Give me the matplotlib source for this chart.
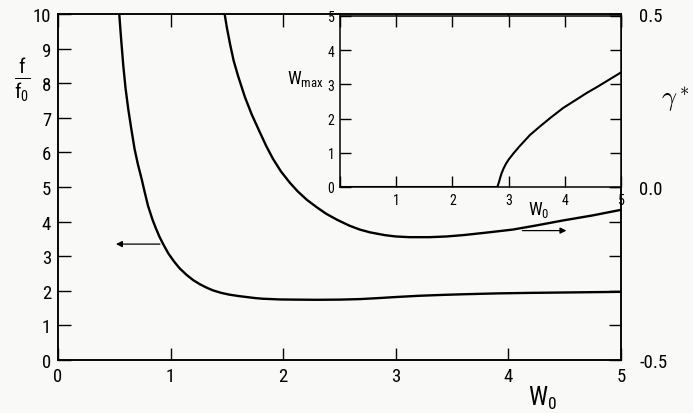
import matplotlib
matplotlib.use('Agg')
import matplotlib.pyplot as plt
from matplotlib import font_manager

# ---------------- font: narrow sans like the scanned book figure ----------------
names = {f.name for f in font_manager.fontManager.ttflist}
fam = 'DejaVu Sans'
for cand in ['Liberation Sans Narrow', 'Roboto Condensed', 'Roboto']:
    if cand in names:
        fam = cand
        break
plt.rcParams['font.family'] = [fam, 'DejaVu Sans']
plt.rcParams['mathtext.fontset'] = 'custom'
plt.rcParams['mathtext.rm'] = fam
plt.rcParams['mathtext.it'] = fam
plt.rcParams['mathtext.bf'] = fam

# ---------------- data ----------------
# f/f0 against W0 (left axis)
w_f = [0.544, 0.56, 0.58, 0.60, 0.624, 0.65, 0.68, 0.71, 0.743, 0.77, 0.80,
       0.84, 0.87, 0.90, 0.934, 0.98, 1.03, 1.08, 1.142, 1.20, 1.26, 1.32,
       1.378, 1.45, 1.52, 1.60, 1.674, 1.75, 1.82, 1.9, 1.97, 2.1, 2.3, 2.5,
       2.68, 2.85, 3.0, 3.2, 3.4, 3.6, 3.9, 4.2, 4.6, 5.0]
f_ratio = [10.0, 9.3, 8.5, 7.85, 7.25, 6.7, 6.1, 5.65, 5.23, 4.85, 4.45,
           4.05, 3.8, 3.57, 3.35, 3.08, 2.85, 2.65, 2.46, 2.31, 2.19, 2.09,
           2.01, 1.94, 1.89, 1.85, 1.82, 1.79, 1.77, 1.76, 1.75, 1.745, 1.74, 1.745,
           1.76, 1.79, 1.82, 1.855, 1.88, 1.90, 1.925, 1.94, 1.955, 1.97]

# gamma* against W0 (right axis)
w_g = [1.48, 1.50, 1.53, 1.56, 1.60, 1.66, 1.72, 1.79, 1.85, 1.91, 1.98,
       2.06, 2.13, 2.21, 2.30, 2.38, 2.48, 2.59, 2.68, 2.77, 2.9, 3.0, 3.12,
       3.3, 3.45, 3.6, 3.8, 4.04, 4.25, 4.48, 4.75, 5.0]
gamma_star = [0.50, 0.46, 0.41, 0.365, 0.32, 0.26, 0.21, 0.16, 0.118, 0.081, 0.045,
              0.012, -0.013, -0.037, -0.059, -0.077, -0.095, -0.112, -0.123, -0.131,
              -0.139, -0.143, -0.145, -0.145, -0.143, -0.139, -0.132, -0.123, -0.111,
              -0.097, -0.082, -0.066]

# inset: Wmax against W0
w_in = [0.0, 2.8, 2.81, 2.83, 2.85, 2.875, 2.91, 2.95, 3.0, 3.09, 3.2, 3.38,
        3.55, 3.75, 3.97, 4.2, 4.4, 4.57, 4.8, 5.0]
w_max = [0.0, 0.0, 0.05, 0.15, 0.27, 0.40, 0.54, 0.67, 0.80, 0.99, 1.2, 1.52,
         1.76, 2.03, 2.31, 2.55, 2.76, 2.92, 3.15, 3.35]

x_ticks = [0, 1, 2, 3, 4, 5]
f_ticks = list(range(11))
g_ticks = [-0.5, 0.0, 0.5]
g_labels = ['-0.5', '0.0', '0.5']
g_minor = [-0.4, -0.3, -0.2, -0.1, 0.1, 0.2, 0.3, 0.4]
in_ticks = [0, 1, 2, 3, 4, 5]
in_xlabels = ['', '1', '2', '3', '4', '5']

bg = '#f9f9f8'
W, H = 693, 414

fig = plt.figure(figsize=(6.93, 4.14), dpi=100, facecolor=bg)

# ---------------- main axes ----------------
ax = fig.add_axes([58 / W, 53 / H, 563 / W, 346 / H])
ax.set_facecolor(bg)
ax.plot(w_f, f_ratio, color='k', lw=1.7)
ax.set_xlim(0, 5)
ax.set_ylim(0, 10)
ax.set_xticks(x_ticks)
ax.set_yticks(f_ticks)
ax.tick_params(direction='in', length=9, width=1, top=True, labelsize=13.5, pad=5,
               colors='k')
for s in ax.spines.values():
    s.set_linewidth(1.1)
ax.annotate('', xy=(0.49, 3.35), xytext=(0.93, 3.35),
            arrowprops=dict(arrowstyle='-|>', color='k', lw=0.9, mutation_scale=9))

ax2 = ax.twinx()
ax2.plot(w_g, gamma_star, color='k', lw=1.7)
ax2.set_ylim(-0.5, 0.5)
ax2.set_yticks(g_ticks)
ax2.set_yticklabels(g_labels)
ax2.set_yticks(g_minor, minor=True)
ax2.tick_params(which='both', direction='in', length=9, width=1, labelsize=13.5, pad=13,
                colors='k')
for s in ax2.spines.values():
    s.set_linewidth(1.1)
ax2.annotate('', xy=(4.54, -0.126), xytext=(4.1, -0.126),
             arrowprops=dict(arrowstyle='-|>', color='k', lw=0.9, mutation_scale=9))

# ---------------- inset ----------------
axin = fig.add_axes([340 / W, (H - 188) / H, 281 / W, 171 / H])
axin.set_facecolor(bg)
axin.plot(w_in, w_max, color='k', lw=1.5)
axin.set_xlim(0, 5)
axin.set_ylim(0, 5)
axin.set_xticks(in_ticks)
axin.set_xticklabels(in_xlabels)
axin.set_yticks(in_ticks)
axin.tick_params(direction='in', length=8, width=1, top=True, right=True,
                 labelsize=10, pad=4, colors='k')
for s in axin.spines.values():
    s.set_linewidth(1.1)
axin.text(-0.19, 0.64, r'W$_{\mathrm{max}}$', transform=axin.transAxes,
          fontsize=13, ha='left', va='center')
axin.text(0.67, -0.13, r'W$_0$', transform=axin.transAxes,
          fontsize=13, ha='left', va='center')

# ---------------- axis labels ----------------
fig.text(22 / W, 1 - 80 / H, r'$\frac{\mathrm{f}}{\mathrm{f_0}}$', fontsize=21,
         ha='center', va='center')
fig.text(661 / W, 1 - 100 / H, r'$\gamma^*$', fontsize=19, ha='left', va='center',
         math_fontfamily='cm')
fig.text(528 / W, 1 - 398 / H, r'W$_0$', fontsize=18, ha='left', va='center')

fig.savefig('out.png', dpi=100, facecolor=bg)
